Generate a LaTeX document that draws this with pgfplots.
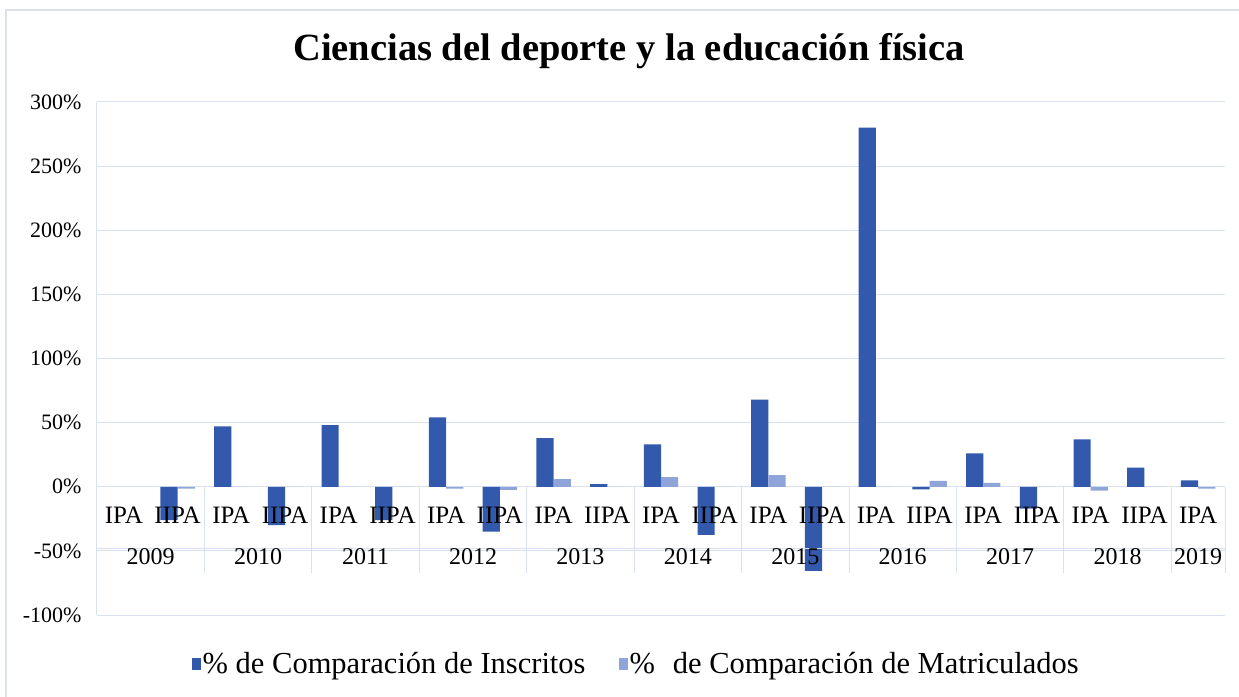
\documentclass[border=0pt]{standalone}
\usepackage{fontspec}
\setmainfont{Liberation Serif}
\usepackage{pgfplots}
\pgfplotsset{compat=1.18}
\definecolor{darkb}{HTML}{3259AB}
\definecolor{lightb}{HTML}{8FA4D9}
\definecolor{gridc}{HTML}{D9E0F0}
\definecolor{bord}{HTML}{DDE2EA}
\begin{document}
\begin{tikzpicture}
\path[use as bounding box] (-97pt,-81pt) rectangle (1142pt,615pt);
\draw[bord, line width=1.2pt] (-91pt,-82pt) -- (-91pt,605pt) -- (1143pt,605pt);
\node[font=\fontsize{38.5}{42}\selectfont\bfseries] at (532pt,564pt) {Ciencias del deporte y la educación física};
\begin{axis}[
  at={(0pt,0pt)}, anchor=south west,
  scale only axis, width=1128pt, height=513pt,
  xmin=-0.5, xmax=20.5, ymin=-100, ymax=300,
  ytick={-100,-50,...,300},
  xtick=\empty,
  axis line style={draw=none},
  ymajorgrids, grid style={gridc, line width=1pt},
  major tick length=0pt,
  /pgf/number format/assume math mode=true,
  yticklabel={\pgfmathprintnumber{\tick}\%},
  yticklabel style={font=\fontsize{22}{25}\selectfont, xshift=-12pt},
  ybar, bar width=0.32,
  legend style={at={(0.478,-0.094)}, anchor=center, draw=none, fill=none,
    legend columns=2, font=\fontsize{30.5}{33}\selectfont,
    nodes={inner sep=1.5pt},
    /tikz/every even column/.append style={column sep=32pt}},
  legend image code/.code={\fill[#1] (0pt,-7pt) rectangle (9pt,5pt);},
  clip=false,
]
\addplot[fill=darkb, draw=none, bar shift=-0.16] coordinates {
 (1,-26) (2,47) (3,-30) (4,48) (5,-26) (6,54) (7,-35) (8,38) (9,2) (10,33)
 (11,-37.5) (12,68) (13,-65.5) (14,280) (15,-2) (16,26) (17,-17) (18,37) (19,15) (20,5)};
\addplot[fill=lightb, draw=none, bar shift=0.16] coordinates {
 (1,-1.5) (2,0) (3,0) (4,0) (5,0) (6,-1.5) (7,-2.5) (8,6) (9,0) (10,7.5)
 (11,0) (12,9) (13,0) (14,0) (15,4.5) (16,3) (17,0) (18,-3) (19,0) (20,-1.5)};
\legend{\% de Comparación de Inscritos, \%\hspace{18pt}de Comparación de Matriculados}
\draw[gridc, line width=1pt] (axis cs:-0.5,-100) -- (axis cs:-0.5,300);
\draw[gridc, line width=1pt] ([yshift=-62pt]axis cs:-0.5,0) -- ([yshift=-62pt]axis cs:20.5,0);
\pgfplotsinvokeforeach{0,...,10}{
  \draw[gridc, line width=1pt] (axis cs:{2*#1-0.5},0) -- ([yshift=-86pt]axis cs:{2*#1-0.5},0);
}
\draw[gridc, line width=1pt] (axis cs:20.5,0) -- ([yshift=-86pt]axis cs:20.5,0);
\pgfplotsinvokeforeach{0,...,9}{
  \node[font=\fontsize{25}{28}\selectfont] at ([yshift=-28pt]axis cs:{2*#1},0) {IPA};
  \node[font=\fontsize{25}{28}\selectfont] at ([yshift=-28pt]axis cs:{2*#1+1},0) {IIPA};
}
\node[font=\fontsize{25}{28}\selectfont] at ([yshift=-28pt]axis cs:20,0) {IPA};
\node[font=\fontsize{24}{27}\selectfont] at ([yshift=-70pt]axis cs:0.5,0) {2009};
\node[font=\fontsize{24}{27}\selectfont] at ([yshift=-70pt]axis cs:2.5,0) {2010};
\node[font=\fontsize{24}{27}\selectfont] at ([yshift=-70pt]axis cs:4.5,0) {2011};
\node[font=\fontsize{24}{27}\selectfont] at ([yshift=-70pt]axis cs:6.5,0) {2012};
\node[font=\fontsize{24}{27}\selectfont] at ([yshift=-70pt]axis cs:8.5,0) {2013};
\node[font=\fontsize{24}{27}\selectfont] at ([yshift=-70pt]axis cs:10.5,0) {2014};
\node[font=\fontsize{24}{27}\selectfont] at ([yshift=-70pt]axis cs:12.5,0) {2015};
\node[font=\fontsize{24}{27}\selectfont] at ([yshift=-70pt]axis cs:14.5,0) {2016};
\node[font=\fontsize{24}{27}\selectfont] at ([yshift=-70pt]axis cs:16.5,0) {2017};
\node[font=\fontsize{24}{27}\selectfont] at ([yshift=-70pt]axis cs:18.5,0) {2018};
\node[font=\fontsize{24}{27}\selectfont] at ([yshift=-70pt]axis cs:20,0) {2019};
\end{axis}
\end{tikzpicture}
\end{document}
